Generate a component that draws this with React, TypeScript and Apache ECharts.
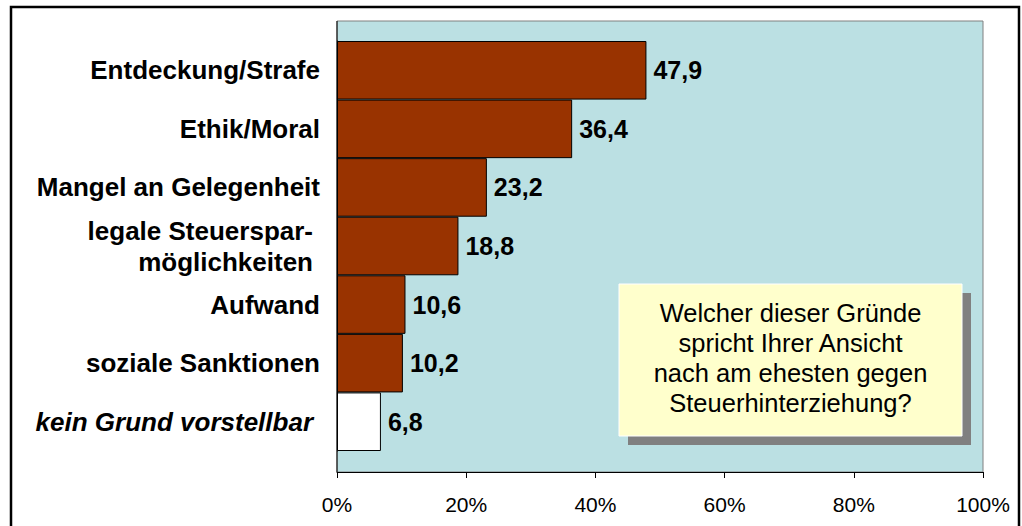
import React, { useEffect, useRef } from "react";
import * as echarts from "echarts";

const categories = [
  "Entdeckung/Strafe",
  "Ethik/Moral",
  "Mangel an Gelegenheit",
  "legale Steuerspar-\nmöglichkeiten",
  "Aufwand",
  "soziale Sanktionen",
  "kein Grund vorstellbar",
];
const values = [47.9, 36.4, 23.2, 18.8, 10.6, 10.2, 6.8];
const barColors = ["#993300", "#993300", "#993300", "#993300", "#993300", "#993300", "#FFFFFF"];
const tickLabels = ["0%", "20%", "40%", "60%", "80%", "100%"];
const calloutLines = [
  "Welcher dieser Gründe",
  "spricht Ihrer Ansicht",
  "nach am ehesten gegen",
  "Steuerhinterziehung?",
];

const FONT = '"Liberation Sans", Arial, Helvetica, sans-serif';

export default function App() {
  const ref = useRef<HTMLDivElement>(null);

  useEffect(() => {
    document.body.style.margin = "0";
    if (!ref.current) return;
    const chart = echarts.init(ref.current, null, { renderer: "svg" });

    const plotL = 337, plotT = 21, plotR = 983, plotB = 472;

    const option: any = {
      animation: false,
      backgroundColor: "#FFFFFF",
      textStyle: { fontFamily: FONT },
      grid: { left: plotL, right: 1022 - plotR, top: 41, bottom: 526 - 451, containLabel: false },
      xAxis: {
        type: "value",
        min: 0,
        max: 100,
        interval: 20,
        offset: plotB - 451,
        axisLine: { show: true, lineStyle: { color: "#000000", width: 1 } },
        axisTick: { show: true, length: 6, lineStyle: { color: "#000000" } },
        splitLine: { show: false },
        axisLabel: {
          margin: 22,
          fontSize: 21,
          color: "#000000",
          fontFamily: FONT,
          formatter: (v: number) => tickLabels[Math.round(v / 20)] ?? v + "%",
        },
      },
      yAxis: {
        type: "category",
        inverse: true,
        data: categories,
        axisLine: { show: true, lineStyle: { color: "#000000", width: 1 } },
        axisTick: { show: false },
        axisLabel: {
          margin: 17,
          fontSize: 26,
          fontWeight: "bold",
          color: "#000000",
          fontFamily: FONT,
          lineHeight: 31,
          formatter: (v: string, i: number) => {
            if (i === 3) return v.split("\n").map((s) => "{p|" + s + "}").join("\n");
            if (i === 6) return "{i|" + v + "}";
            return v;
          },
          rich: {
            p: {
              fontSize: 26,
              fontWeight: "bold",
              fontFamily: FONT,
              color: "#000000",
              lineHeight: 31,
              padding: [0, 7, 0, 0],
            },
            i: {
              fontSize: 26,
              fontWeight: "bold",
              fontStyle: "italic",
              fontFamily: FONT,
              color: "#000000",
              padding: [0, 7, 0, 0],
            },
          },
        },
      },
      series: [
        {
          type: "bar",
          z: 2,
          barCategoryGap: "0%",
          data: values.map((v, i) => ({
            value: v,
            itemStyle: { color: barColors[i], borderColor: "#000000", borderWidth: 1 },
          })),
          label: {
            show: true,
            position: "right",
            distance: 7,
            fontSize: 25,
            fontWeight: "bold",
            color: "#000000",
            fontFamily: FONT,
            formatter: (p: any) => String(p.value).replace(".", ","),
          },
        },
      ],
      graphic: [
        {
          type: "rect",
          z: -10,
          shape: { x: 11, y: 7, width: 1008, height: 560 },
          style: { fill: "#FFFFFF", stroke: "#000000", lineWidth: 2.5 },
          silent: true,
        },
        {
          type: "rect",
          z: -5,
          shape: { x: plotL, y: plotT, width: plotR - plotL, height: plotB - plotT },
          style: { fill: "#BBE0E3", stroke: "#808080", lineWidth: 1 },
          silent: true,
        },
        {
          type: "line",
          z: 1,
          shape: { x1: plotL, y1: plotT, x2: plotL, y2: plotB },
          style: { stroke: "#000000", lineWidth: 1 },
          silent: true,
        },
        {
          type: "rect",
          z: 10,
          shape: { x: 628, y: 293, width: 343, height: 152 },
          style: { fill: "#808080" },
          silent: true,
        },
        {
          type: "rect",
          z: 11,
          shape: { x: 619, y: 284, width: 343, height: 152 },
          style: { fill: "#FFFFCC", stroke: "#FFFFFF", lineWidth: 1 },
          silent: true,
        },
        {
          type: "text",
          z: 12,
          x: 790.5,
          y: 358,
          style: {
            text: calloutLines.join("\n"),
            fontSize: 25.5,
            fontFamily: FONT,
            fill: "#000000",
            align: "center",
            verticalAlign: "middle",
            lineHeight: 30,
          },
          silent: true,
        },
      ],
    };

    chart.setOption(option);
    return () => chart.dispose();
  }, []);

  return (
    <div
      ref={ref}
      style={{ position: "absolute", left: 0, top: 0, width: 1022, height: 526 }}
    />
  );
}
